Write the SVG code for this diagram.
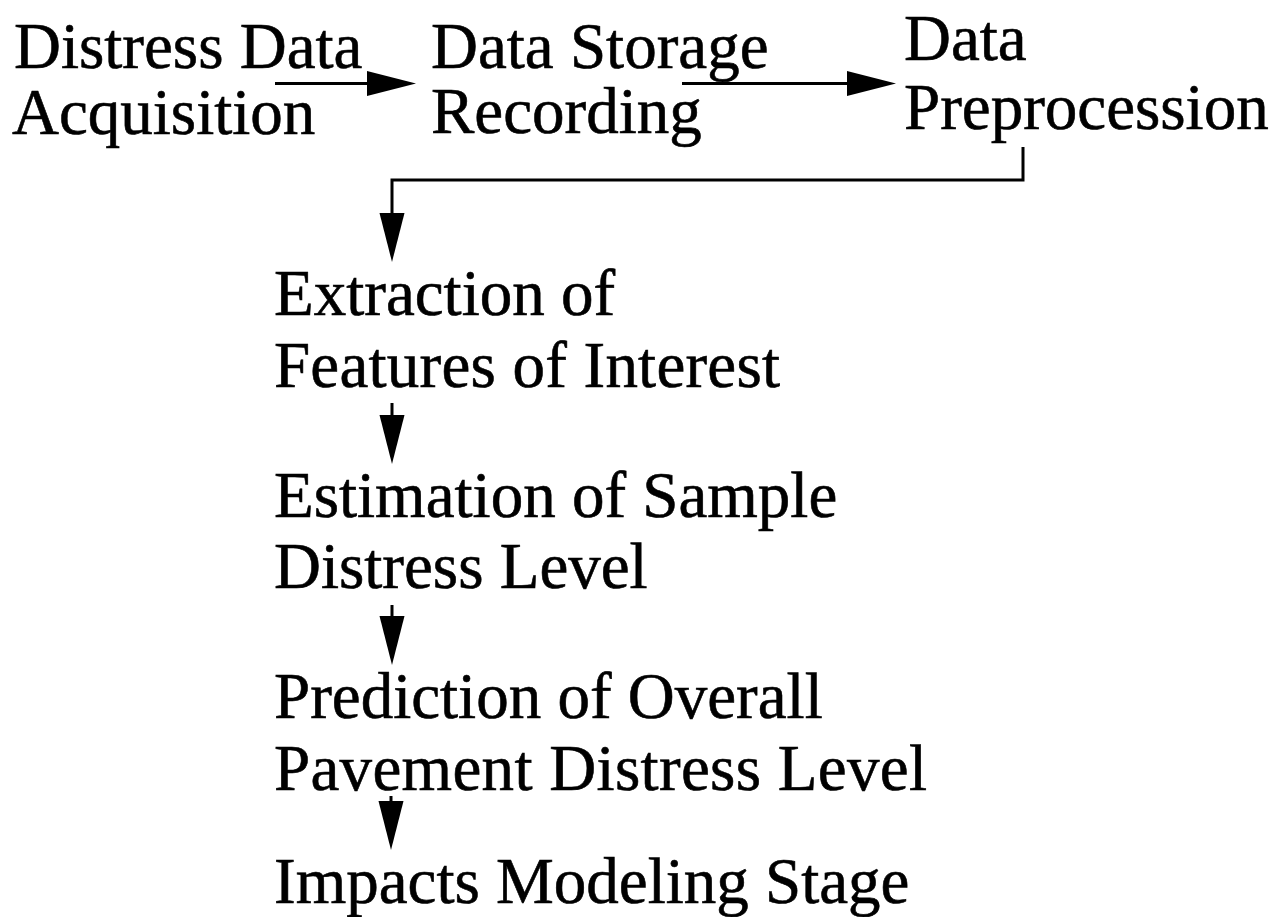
<svg xmlns="http://www.w3.org/2000/svg" width="1284" height="917" viewBox="0 0 1284 917">
  <defs>
    <style>
      .lbl { font-family: "Liberation Serif", "Times New Roman", serif; font-size: 65px; fill: #000; stroke: #000; stroke-width: 0.6px; }
      .wire { fill: none; stroke: #000; stroke-width: 3; stroke-linecap: butt; stroke-linejoin: miter; }
    </style>
    <!-- long narrow filled head; base sits at the path end -->
    <marker id="head" markerUnits="userSpaceOnUse" markerWidth="50" markerHeight="26" refX="0" refY="12.5" orient="auto" overflow="visible">
      <path d="M0,0 L49,12.5 L0,25 Z" fill="#000"/>
    </marker>
  </defs>

  <rect width="1284" height="917" fill="#fff"/>

  <g id="acquisition">
    <text class="lbl" x="14" y="68">Distress Data</text>
    <text class="lbl" x="12" y="134">Acquisition</text>
  </g>

  <g id="storage">
    <text class="lbl" x="431" y="68">Data Storage</text>
    <text class="lbl" x="431" y="133">Recording</text>
  </g>

  <g id="preprocession">
    <text class="lbl" x="904" y="60">Data</text>
    <text class="lbl" x="904" y="129">Preprocession</text>
  </g>

  <g id="extraction">
    <text class="lbl" x="274" y="315">Extraction of</text>
    <text class="lbl" x="274" y="387" textLength="506" lengthAdjust="spacing">Features of Interest</text>
  </g>

  <g id="estimation">
    <text class="lbl" x="274" y="517">Estimation of Sample</text>
    <text class="lbl" x="274" y="588">Distress Level</text>
  </g>

  <g id="prediction">
    <text class="lbl" x="274" y="718">Prediction of Overall</text>
    <text class="lbl" x="274" y="790" textLength="653" lengthAdjust="spacing">Pavement Distress Level</text>
  </g>

  <g id="impacts">
    <text class="lbl" x="274" y="903">Impacts Modeling Stage</text>
  </g>

  <g id="connectors">
    <path class="wire" d="M275,83.5 H367" marker-end="url(#head)"/>
    <path class="wire" d="M682,83.5 H847" marker-end="url(#head)"/>
    <path class="wire" d="M1023,147 V180 H392 V213" marker-end="url(#head)"/>
    <path class="wire" d="M392,403 V415" marker-end="url(#head)"/>
    <path class="wire" d="M392,605 V616" marker-end="url(#head)"/>
    <path class="wire" d="M391,796 V801" marker-end="url(#head)"/>
  </g>
</svg>
